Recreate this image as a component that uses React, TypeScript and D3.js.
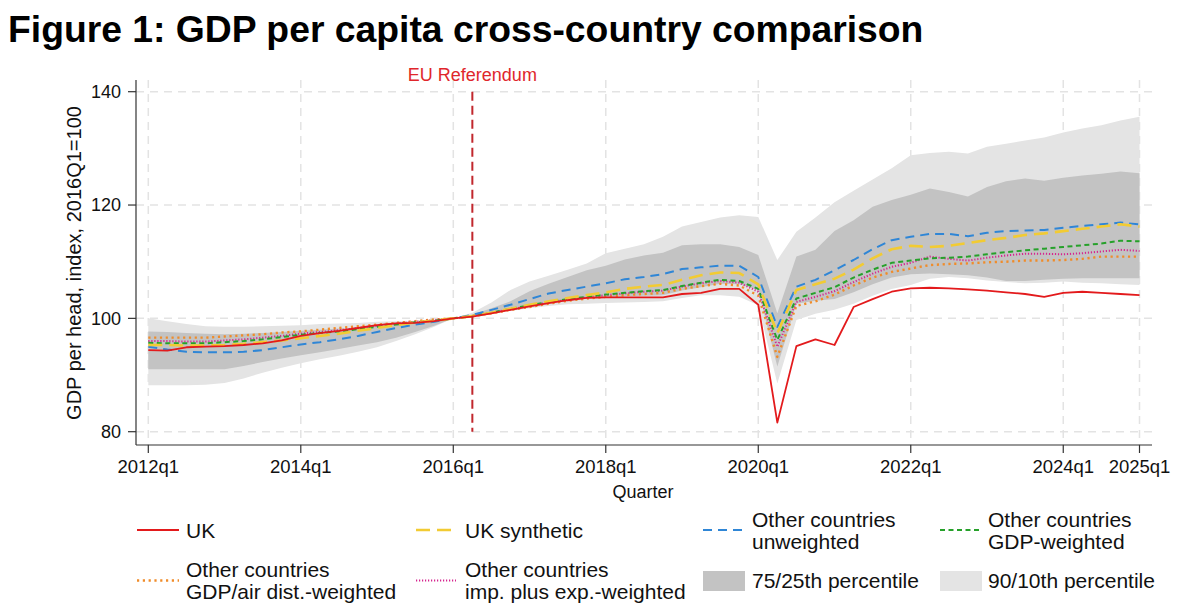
import * as d3 from "d3";

// quarters 2012q1 .. 2025q1
const quarters: string[] = [];
for (let yr = 2012; yr <= 2025; yr++) {
  for (let q = 1; q <= 4; q++) {
    if (yr === 2025 && q > 1) break;
    quarters.push(`${yr}q${q}`);
  }
}

const xTickLabels = ["2012q1", "2014q1", "2016q1", "2018q1", "2020q1", "2022q1", "2024q1", "2025q1"];
const yTicks = [80, 100, 120, 140];
const referendumQuarter = "2016q2";

const uk = [
  94.4, 94.3, 94.9, 95.0, 95.1, 95.3, 95.6, 96.1, 96.9, 97.4, 97.8, 98.3, 98.8, 99.1, 99.2, 99.5,
  100.0, 100.3, 100.9, 101.5, 102.1, 102.7, 103.2, 103.6, 103.7, 103.7, 103.7, 103.7, 104.3, 104.5, 105.2, 105.2,
  102.4, 81.6, 95.1, 96.3, 95.3, 102.0, 103.4, 104.7, 105.3, 105.4, 105.3, 105.1, 104.9, 104.6, 104.3, 103.8,
  104.5, 104.7, 104.5, 104.3, 104.1,
];
const ukSynthetic = [
  95.3, 95.3, 95.2, 95.2, 95.3, 95.5, 95.8, 96.1, 96.5, 96.9, 97.3, 97.8, 98.3, 98.8, 99.3, 99.6,
  100.0, 100.4, 101.0, 101.7, 102.4, 103.0, 103.6, 104.1, 104.6, 105.2, 105.6, 105.9, 106.8, 107.6, 108.1, 108.0,
  106.0, 97.4, 105.0, 106.0, 107.0, 108.6, 110.6, 112.2, 112.8, 112.6, 112.8, 113.3, 113.8, 114.2, 114.7, 115.0,
  115.4, 115.8, 116.2, 116.6, 116.2,
];
const unweighted = [
  95.0, 94.5, 94.1, 94.0, 94.0, 94.1, 94.4, 94.9, 95.4, 95.8, 96.3, 96.9, 97.6, 98.3, 98.9, 99.4,
  100.0, 100.6, 101.5, 102.4, 103.4, 104.4, 105.0, 105.6, 106.2, 106.9, 107.3, 107.8, 108.7, 109.0, 109.3, 109.3,
  107.3, 98.5, 105.6, 106.8, 108.5, 110.3, 112.2, 113.8, 114.4, 114.9, 114.9, 114.5, 115.1, 115.4, 115.5, 115.6,
  116.0, 116.3, 116.6, 116.9, 116.6,
];
const gdpWeighted = [
  95.7, 95.6, 95.6, 95.6, 95.8, 96.0, 96.3, 96.7, 97.1, 97.4, 97.7, 98.1, 98.5, 98.9, 99.3, 99.6,
  100.0, 100.4, 101.0, 101.7, 102.3, 102.9, 103.4, 103.8, 104.2, 104.5, 104.8, 105.0, 105.7, 106.3, 106.8, 106.6,
  105.2, 96.2, 103.5, 104.5, 105.5, 107.2, 108.6, 109.8, 110.2, 110.6, 110.7, 110.9, 111.3, 111.7, 112.0, 112.3,
  112.6, 112.9, 113.2, 113.7, 113.6,
];
const impExpWeighted = [
  96.0, 96.0, 95.9, 95.9, 96.1, 96.3, 96.6, 96.9, 97.3, 97.6, 97.9, 98.3, 98.7, 99.1, 99.4, 99.7,
  100.0, 100.4, 101.0, 101.6, 102.2, 102.8, 103.3, 103.7, 104.1, 104.4, 104.7, 104.9, 105.6, 106.2, 106.6, 106.3,
  104.7, 95.0, 102.9, 103.8, 104.8, 106.4, 107.9, 109.1, 109.8, 110.9, 110.5, 110.2, 110.7, 111.1, 111.4, 111.4,
  111.3, 111.5, 111.8, 112.1, 111.9,
];
const airDistWeighted = [
  96.6, 96.6, 96.6, 96.6, 96.8, 97.0, 97.2, 97.5, 97.7, 98.0, 98.3, 98.6, 98.9, 99.2, 99.5, 99.8,
  100.0, 100.4, 100.9, 101.5, 102.0, 102.6, 103.1, 103.5, 103.8, 104.1, 104.3, 104.5, 105.2, 105.7, 106.1, 105.8,
  104.0, 93.2, 102.2, 103.0, 104.2, 105.8, 107.2, 108.2, 108.8, 109.4, 109.6, 109.7, 109.9, 110.0, 110.2, 110.2,
  110.3, 110.5, 110.9, 110.9, 110.9,
];
const p90 = [
  100.0, 99.5, 99.0, 98.6, 98.5, 98.5, 98.6, 98.7, 98.8, 99.0, 99.1, 99.2, 99.4, 99.5, 99.6, 99.8,
  100.0, 101.0, 102.8, 105.0, 106.5, 107.5, 108.6, 109.7, 111.5, 112.3, 113.1, 114.4, 116.2, 117.0, 117.8, 118.2,
  117.9, 110.3, 115.3, 117.8, 120.5, 122.5, 124.5, 126.5, 128.8, 129.2, 129.4, 129.1, 130.3, 130.8, 131.4, 131.9,
  132.8, 133.5, 134.1, 134.9, 135.6,
];
const p75 = [
  97.7, 97.6, 97.4, 97.3, 97.2, 97.3, 97.4, 97.6, 97.8, 98.0, 98.2, 98.4, 98.7, 99.0, 99.3, 99.6,
  100.0, 100.7, 101.8, 103.0, 104.8, 106.1, 107.3, 108.5, 109.3, 110.4, 111.1, 111.6, 112.9, 113.1, 113.1, 112.6,
  111.2, 100.9, 110.9, 112.1, 115.4, 117.3, 119.7, 120.9, 121.8, 122.9, 122.3, 121.5, 123.2, 124.2, 124.7, 124.3,
  124.8, 125.2, 125.5, 125.9, 125.6,
];
const p25 = [
  91.0, 91.0, 91.0, 91.0, 91.0, 91.6, 92.3, 92.9, 93.5, 94.0, 94.6, 95.2, 95.8, 96.6, 97.6, 98.7,
  100.0, 100.5, 101.0, 101.6, 102.2, 102.7, 103.1, 103.5, 103.7, 103.9, 104.0, 104.1, 104.9, 105.5, 106.1, 106.0,
  105.0, 91.5, 102.6, 103.1, 103.4, 104.6, 106.0, 107.2, 107.8, 107.9, 107.8, 107.6, 107.2, 106.6, 106.6, 106.8,
  107.0, 107.1, 107.1, 107.1, 107.1,
];
const p10 = [
  88.2, 88.2, 88.2, 88.3, 88.6, 89.4, 90.4, 91.3, 92.1, 92.8, 93.4, 94.1, 94.9, 96.0, 97.2, 98.5,
  100.0, 100.4, 100.8, 101.3, 101.8, 102.2, 102.5, 102.6, 102.7, 102.8, 102.9, 103.0, 103.6, 104.1, 104.1, 103.8,
  102.3, 88.5, 99.7, 100.8, 101.5, 102.6, 104.0, 105.2, 105.9, 107.0, 107.3, 107.1, 106.7, 106.4, 106.2, 106.3,
  106.5, 106.3, 106.2, 106.0, 105.9,
];

const lineSeries = [
  { name: "air", values: airDistWeighted, color: "#f08c2a", width: 2.4, dash: "2.2 3.6" },
  { name: "impexp", values: impExpWeighted, color: "#d6268f", width: 2, dash: "1.2 1.8" },
  { name: "gdp", values: gdpWeighted, color: "#26a12a", width: 2, dash: "5 3.5" },
  { name: "unweighted", values: unweighted, color: "#2f86d6", width: 2, dash: "9 6" },
  { name: "synthetic", values: ukSynthetic, color: "#f2cb33", width: 2.6, dash: "14 7" },
  { name: "uk", values: uk, color: "#e31a1c", width: 1.8, dash: "" },
];

const W = 1198;
const H = 615;
const FONT = "'Liberation Sans', Arial, Helvetica, sans-serif";

const App = () => {
  const x = d3.scaleLinear().domain([0, quarters.length - 1]).range([148.3, 1139.5]);
  const y = d3.scaleLinear().domain([80, 140]).range([431.7, 91.7]);
  const xq = (lab: string) => x(quarters.indexOf(lab));

  const left = 136;
  const right = 1152;
  const top = 80;
  const bottom = 445;

  const band = (lo: number[], hi: number[]) =>
    d3
      .area<number>()
      .x((_, i) => x(i))
      .y0((_, i) => y(lo[i]))
      .y1((_, i) => y(hi[i]))(lo) as string;

  const line = (vals: number[]) =>
    d3
      .line<number>()
      .x((_, i) => x(i))
      .y((d) => y(d))(vals) as string;

  const refX = xq(referendumQuarter);

  // legend symbol helper
  const legendLine = (x0: number, x1: number, cy: number, s: any) => (
    <line x1={x0} x2={x1} y1={cy} y2={cy} stroke={s.color} strokeWidth={s.width} strokeDasharray={s.dash} />
  );
  const byName = (n: string) => lineSeries.find((s) => s.name === n);

  return (
    <svg
      width={W}
      height={H}
      style={{ position: "absolute", left: 0, top: 0, background: "#fff" }}
      fontFamily={FONT}
    >
      <rect width={W} height={H} fill="#fff" />
      <text x={8} y={41.5} fontSize={37.3} fontWeight="bold" fill="#000">
        Figure 1: GDP per capita cross-country comparison
      </text>

      {/* grid */}
      {yTicks.map((t) => (
        <line key={"gy" + t} x1={left} x2={right} y1={y(t)} y2={y(t)} stroke="#e3e3e3" strokeWidth={1.5} strokeDasharray="8 6" />
      ))}
      {xTickLabels.map((t) => (
        <line key={"gx" + t} x1={xq(t)} x2={xq(t)} y1={top} y2={bottom} stroke="#e3e3e3" strokeWidth={1.5} strokeDasharray="8 6" />
      ))}

      {/* bands */}
      <path d={band(p10, p90)} fill="#e4e4e4" />
      <path d={band(p25, p75)} fill="#c3c3c3" />

      {/* lines */}
      {lineSeries.map((s) => (
        <path
          key={s.name}
          d={line(s.values)}
          fill="none"
          stroke={s.color}
          strokeWidth={s.width}
          strokeDasharray={s.dash}
          strokeLinejoin="round"
        />
      ))}

      {/* referendum */}
      <line x1={refX} x2={refX} y1={y(140)} y2={y(80)} stroke="#c1272d" strokeWidth={2} strokeDasharray="9 5" />
      <text x={refX} y={81} fontSize={18} fill="#e0262b" textAnchor="middle">
        EU Referendum
      </text>

      {/* axes */}
      <line x1={left} x2={left} y1={top} y2={bottom} stroke="#333" strokeWidth={1.2} />
      <line x1={left} x2={right} y1={bottom} y2={bottom} stroke="#333" strokeWidth={1.2} />
      {yTicks.map((t) => (
        <g key={"yt" + t}>
          <line x1={left - 8} x2={left} y1={y(t)} y2={y(t)} stroke="#333" strokeWidth={1.2} />
          <text x={left - 15} y={y(t)} dy="0.35em" fontSize={18} textAnchor="end" fill="#111">
            {t}
          </text>
        </g>
      ))}
      {xTickLabels.map((t) => (
        <g key={"xt" + t}>
          <line x1={xq(t)} x2={xq(t)} y1={bottom} y2={bottom + 8} stroke="#333" strokeWidth={1.2} />
          <text x={xq(t)} y={473} fontSize={18.5} textAnchor="middle" fill="#111">
            {t}
          </text>
        </g>
      ))}
      <text x={643} y={498} fontSize={18} textAnchor="middle" fill="#111">
        Quarter
      </text>
      <text transform="translate(81,263) rotate(-90)" fontSize={20} textAnchor="middle" fill="#111">
        GDP per head, index, 2016Q1=100
      </text>

      {/* legend */}
      <g fontSize={21} fill="#111">
        {legendLine(137, 179, 530, byName("uk"))}
        <text x={186} y={537.5}>UK</text>
        {legendLine(416, 458, 530, byName("synthetic"))}
        <text x={465} y={537.5}>UK synthetic</text>
        {legendLine(703, 745, 530, byName("unweighted"))}
        <text x={752} y={527}>Other countries</text>
        <text x={752} y={549}>unweighted</text>
        {legendLine(940, 980, 530, byName("gdp"))}
        <text x={988} y={527}>Other countries</text>
        <text x={988} y={549}>GDP-weighted</text>

        {legendLine(137, 179, 580.5, byName("air"))}
        <text x={186} y={577}>Other countries</text>
        <text x={186} y={599}>GDP/air dist.-weighted</text>
        {legendLine(416, 456, 580.5, byName("impexp"))}
        <text x={465} y={577}>Other countries</text>
        <text x={465} y={599}>imp. plus exp.-weighted</text>
        <rect x={703} y={571} width={42} height={20} fill="#c3c3c3" />
        <text x={752} y={588}>75/25th percentile</text>
        <rect x={940} y={571} width={42} height={20} fill="#e4e4e4" />
        <text x={988} y={588}>90/10th percentile</text>
      </g>
    </svg>
  );
};

export default App;
